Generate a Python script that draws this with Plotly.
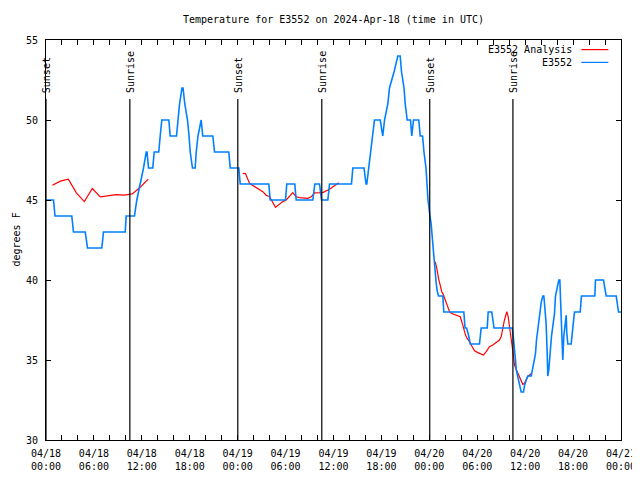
import plotly.graph_objects as go
import pandas as pd

START = "2024-04-18 00:00"

# E3552 observations: hours since 2024-04-18 00:00 UTC, degrees F
obs_hours = [0.00, 0.94, 1.13, 3.23, 3.44, 4.91, 5.20, 6.99, 7.20, 9.92, 10.04, 11.08, 11.37, 11.80, 12.21,
             12.55, 12.65, 12.84, 13.37, 13.55, 14.12, 14.30, 14.50, 15.38, 15.55, 16.34, 16.55, 16.72, 17.03,
             17.16, 17.38, 17.72, 17.91, 18.06, 18.34, 18.68, 18.81, 19.03, 19.43, 19.63, 20.89, 21.10, 22.89,
             23.07, 24.14, 24.32, 27.90, 28.07, 29.99, 30.15, 31.15, 31.33, 33.41, 33.66, 34.25, 34.50, 35.29,
             35.50, 38.25, 38.42, 39.82, 40.07, 40.17, 40.42, 40.70, 40.95, 41.13, 41.85, 42.17, 42.39, 42.80,
             43.01, 43.58, 44.05, 44.35, 44.52, 44.83, 44.98, 45.23, 45.64, 45.80, 46.02, 46.68, 46.86, 47.15,
             47.33, 47.58, 47.71, 47.83, 48.08, 48.23, 48.36, 48.46, 48.59, 48.71, 48.86, 48.99, 49.15, 49.69,
             49.81, 52.32, 52.47, 52.66, 52.94, 53.12, 54.28, 54.49, 55.25, 55.37, 55.82, 56.10, 58.38, 58.50,
             58.66, 58.79, 58.88, 59.08, 59.29, 59.50, 59.79, 59.92, 60.13, 60.33, 60.76, 61.08, 61.29, 61.42,
             61.58, 61.88, 62.01, 62.21, 62.34, 62.46, 62.63, 62.76, 62.83, 62.96, 63.14, 63.30, 63.46, 63.67,
             63.80, 64.01, 64.21, 64.34, 64.43, 64.51, 64.64, 64.71, 64.84, 64.96, 65.14, 65.21, 65.34, 65.76,
             65.89, 65.97, 66.09, 66.18, 66.89, 67.05, 68.72, 68.81, 69.81, 69.97, 70.15, 71.40, 71.53, 71.69,
             72.00]
obs_temps = [45, 45, 44, 44, 43, 43, 42, 42, 43, 43, 44, 44, 45, 46, 47,
             48, 48, 47, 47, 48, 48, 49, 50, 50, 49, 49, 50, 51, 52,
             52, 51, 50, 49, 48, 47, 47, 48, 49, 50, 49, 49, 48, 48,
             47, 47, 46, 46, 45, 45, 46, 46, 45, 45, 46, 46, 45, 45,
             46, 46, 47, 47, 46, 46, 47, 48, 49, 50, 50, 49, 50, 51,
             52, 53, 54, 54, 53, 52, 51, 50, 50, 49, 50, 50, 49, 49,
             48, 47, 46, 45, 44, 43.5, 42.7, 42, 41.3, 40.5, 39.8, 39.3, 39, 39,
             38, 38, 37, 37, 36.5, 36, 36, 37, 37, 38, 38, 37, 37, 36.5,
             35.8, 35, 34.4, 34, 33.6, 33, 33, 33.4, 33.75, 34, 34, 35, 35.4, 36.25,
             37, 38.2, 38.6, 39, 39, 38.3, 37.2, 35.4, 34, 34.4, 35.6, 36.5, 37.1, 37.9,
             39, 39.6, 40, 40, 38.75, 36.7, 35.8, 35, 36.5, 37.1, 37.8, 36.7, 36, 36,
             36.8, 37, 37.6, 38, 38, 39, 39, 40, 40, 39.5, 39, 39, 38.5, 38,
             38]

# E3552 Analysis (three separate segments)
ana1_hours = [0.8, 1.8, 2.8, 3.8, 4.8, 5.8, 6.8, 7.8, 8.8, 9.8, 10.8, 11.8, 12.8]
ana1_temps = [45.92, 46.18, 46.3, 45.45, 44.9, 45.72, 45.2, 45.25, 45.33, 45.3, 45.38, 45.8, 46.3]
ana2_hours = [24.64, 24.98, 25.48, 26.32, 27.15, 27.57, 27.99, 28.74, 29.65, 30.08, 30.90, 31.33, 31.74,
              32.78, 33.21, 33.62, 34.66, 35.50, 36.66]
ana2_temps = [46.67, 46.65, 46.04, 45.80, 45.52, 45.30, 45.20, 44.54, 44.90, 45.00, 45.46, 45.20, 45.15,
              45.10, 45.20, 45.45, 45.46, 45.67, 46.08]
ana3_hours = [48.74, 48.94, 49.15, 49.36, 49.56, 49.77, 49.99, 50.24, 50.53, 50.74, 51.15, 51.57, 51.87,
              52.12, 52.32, 52.53, 52.74, 53.03, 53.37, 53.66, 54.07, 54.49, 54.78, 55.12, 55.53, 55.95,
              56.37, 56.79, 57.00, 57.20, 57.41, 57.70, 57.88, 58.04, 58.25, 58.38, 58.54, 58.66, 58.88,
              59.08, 59.29, 59.50, 59.70, 59.92, 60.13, 60.33, 60.54, 60.83]
ana3_temps = [41.14, 40.73, 40.10, 39.60, 39.27, 39.06, 38.75, 38.44, 38.02, 37.92, 37.85, 37.80, 37.70,
              37.30, 36.88, 36.56, 36.35, 36.15, 35.83, 35.58, 35.46, 35.38, 35.31, 35.52, 35.83, 35.94,
              36.08, 36.25, 36.46, 36.98, 37.50, 38.02, 37.70, 37.08, 36.46, 35.83, 35.20, 34.70, 34.40,
              34.17, 33.86, 33.65, 33.48, 33.54, 33.75, 33.96, 34.06, 34.17]

sun_labels = ["Sunset", "Sunrise", "Sunset", "Sunrise", "Sunset", "Sunrise"]
sun_times = ["2024-04-18 00:00", "2024-04-18 10:30", "2024-04-19 00:01",
             "2024-04-19 10:32", "2024-04-20 00:03", "2024-04-20 10:28"]

tick_hours = list(range(0, 73, 2))
tick_labels = ["04/18<br>00:00", "", "", "04/18<br>06:00", "", "", "04/18<br>12:00", "", "",
               "04/18<br>18:00", "", "", "04/19<br>00:00", "", "", "04/19<br>06:00", "", "",
               "04/19<br>12:00", "", "", "04/19<br>18:00", "", "", "04/20<br>00:00", "", "",
               "04/20<br>06:00", "", "", "04/20<br>12:00", "", "", "04/20<br>18:00", "", "",
               "04/21<br>00:00"]

assert len(obs_hours) == len(obs_temps)
start = pd.Timestamp(START)


def to_time(hours):
    return [None if h is None else start + pd.Timedelta(hours=h) for h in hours]


ana_hours = ana1_hours + [None] + ana2_hours + [None] + ana3_hours
ana_temps = ana1_temps + [None] + ana2_temps + [None] + ana3_temps

FONT = "DejaVu Sans Mono"
RED = "#ff0000"
BLUE = "#0080ff"

fig = go.Figure()
fig.add_trace(go.Scatter(x=to_time(ana_hours), y=ana_temps, mode="lines", name="E3552 Analysis",
                         line=dict(color=RED, width=1.2), connectgaps=False))
fig.add_trace(go.Scatter(x=to_time(obs_hours), y=obs_temps, mode="lines", name="E3552",
                         line=dict(color=BLUE, width=1.6)))

shapes = []
annotations = []
for lab, tm in zip(sun_labels, sun_times):
    shapes.append(dict(type="line", xref="x", yref="paper", x0=tm, x1=tm, y0=0, y1=0.8525,
                       line=dict(color="black", width=1.2)))
    annotations.append(dict(x=tm, xref="x", y=0.862, yref="paper", text=lab, textangle=-90,
                            showarrow=False, xanchor="center", yanchor="bottom",
                            font=dict(family=FONT, size=10, color="black")))

# legend drawn gnuplot-style (text right, line sample after it)
for i, (name, col) in enumerate([("E3552 Analysis", RED), ("E3552", BLUE)]):
    yy = 0.976 - i * 0.032
    annotations.append(dict(x=0.918, xref="paper", y=yy, yref="paper", text=name, showarrow=False,
                            xanchor="right", yanchor="middle",
                            font=dict(family=FONT, size=10, color="black")))
    shapes.append(dict(type="line", xref="paper", yref="paper", x0=0.931, x1=0.978, y0=yy, y1=yy,
                       line=dict(color=col, width=1.2)))

annotations.append(dict(x=-38 / 575, xref="paper", y=0.5, yref="paper", text="degrees F", textangle=-90,
                        showarrow=False, xanchor="left", yanchor="middle",
                        font=dict(family=FONT, size=10, color="black")))

# the page body adds an 8px offset, so the figure is sized 632x472 and margins shifted
fig.update_layout(
    width=632, height=472,
    margin=dict(l=38, r=19, t=32, b=40, autoexpand=False),
    paper_bgcolor="white", plot_bgcolor="white",
    font=dict(family=FONT, size=10, color="black"),
    title=dict(text="Temperature for E3552 on 2024-Apr-18 (time in UTC)", x=0.5, xref="paper",
               y=1 - 11 / 472, yref="container", xanchor="center", yanchor="middle",
               font=dict(family=FONT, size=10, color="black")),
    showlegend=False,
    shapes=shapes,
    annotations=annotations,
)
fig.update_xaxes(type="date", range=[start, start + pd.Timedelta(hours=72)], automargin=False,
                 tickvals=to_time(tick_hours), ticktext=tick_labels, ticklabeloverflow="allow",
                 ticks="inside", ticklen=5, tickcolor="black", tickwidth=1, ticklabelstandoff=4,
                 showline=True, linecolor="black", linewidth=1, mirror="ticks",
                 showgrid=False, zeroline=False, tickfont=dict(family=FONT, size=10, color="black"))
fig.update_yaxes(range=[30, 55], tick0=30, dtick=5, automargin=False,
                 ticks="inside", ticklen=5, tickcolor="black", tickwidth=1, ticklabelstandoff=5,
                 showline=True, linecolor="black", linewidth=1, mirror="ticks",
                 showgrid=False, zeroline=False, tickfont=dict(family=FONT, size=10, color="black"))

fig.write_html("out.html")
